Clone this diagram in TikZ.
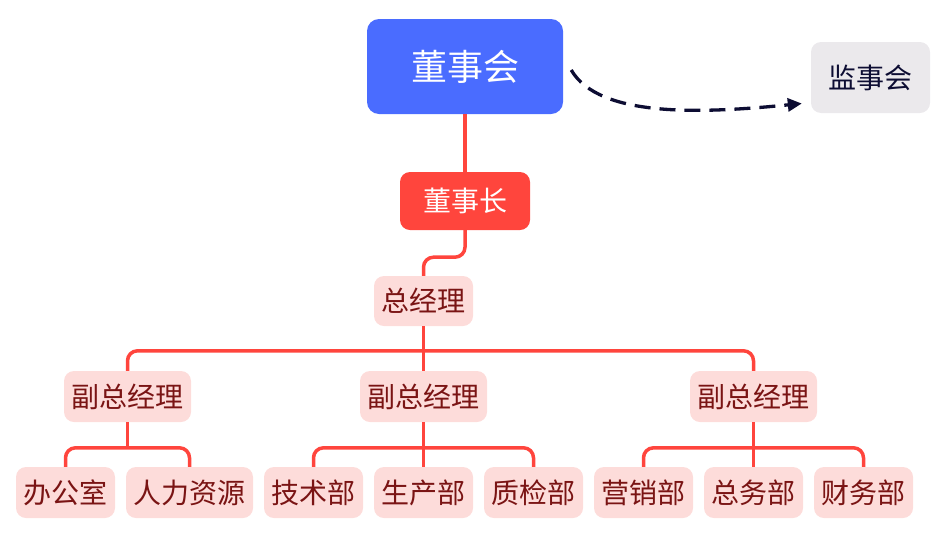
\documentclass[tikz,border=0pt]{standalone}
\usepackage{fontspec}
\newfontfamily\cjk{Noto Sans CJK SC}
\usetikzlibrary{arrows.meta,calc}
\definecolor{cblue}{HTML}{4A6CFF}
\definecolor{cred}{HTML}{FF453D}
\definecolor{cpink}{HTML}{FDDCDA}
\definecolor{ctext}{HTML}{7A1414}
\definecolor{cgrey}{HTML}{EBE9EC}
\definecolor{cnavy}{HTML}{0D0D33}
\tikzset{
  base/.style={inner sep=0pt, rounded corners=10pt, align=center},
  topbox/.style={base, fill=cblue, text=white, rounded corners=12pt, minimum width=196pt, minimum height=95pt, font=\cjk\fontsize{36}{40}\selectfont},
  chairbox/.style={base, fill=cred, text=white, minimum width=130pt, minimum height=58pt, font=\cjk\fontsize{28}{32}\selectfont},
  supbox/.style={base, fill=cgrey, text=cnavy, minimum width=119pt, minimum height=71pt, font=\cjk\fontsize{28}{32}\selectfont},
  pinkbox/.style={base, fill=cpink, text=ctext, minimum height=51pt, font=\cjk\fontsize{28}{32}\selectfont},
  conn/.style={draw=cred, line width=3.5pt, rounded corners=10pt},
  dasharrow/.style={draw=cnavy, line width=3.3pt, dash pattern=on 16pt off 9pt, -{Triangle[length=14pt,width=13pt]}},
}
\begin{document}
\begin{tikzpicture}[x=1pt,y=-1pt]
\useasboundingbox (0,0) rectangle (949,555);
% nodes
\node[topbox] (dsh) at (465,66.5) {董事会};
\node[supbox] (jsh) at (870.5,77.5) {监事会};
\node[chairbox] (dsz) at (465,201) {董事长};
\node[pinkbox, minimum width=99pt, minimum height=50pt] (zjl) at (423.5,301) {总经理};
\node[pinkbox, minimum width=127pt] (f1) at (127.5,396.5) {副总经理};
\node[pinkbox, minimum width=127pt] (f2) at (423.5,396.5) {副总经理};
\node[pinkbox, minimum width=127pt] (f3) at (753.5,396.5) {副总经理};
\node[pinkbox, minimum width=99pt] (l1) at (65.5,492.5) {办公室};
\node[pinkbox, minimum width=127pt] (l2) at (189.5,492.5) {人力资源};
\node[pinkbox, minimum width=99pt] (l3) at (313.5,492.5) {技术部};
\node[pinkbox, minimum width=99pt] (l4) at (423.5,492.5) {生产部};
\node[pinkbox, minimum width=99pt] (l5) at (533.5,492.5) {质检部};
\node[pinkbox, minimum width=99pt] (l6) at (643.5,492.5) {营销部};
\node[pinkbox, minimum width=99pt] (l7) at (753.5,492.5) {总务部};
\node[pinkbox, minimum width=99pt] (l8) at (863.5,492.5) {财务部};
% connectors
\draw[conn] (dsh.south) -- (dsz.north);
\draw[conn] (dsz.south) -- ++(0,27) -| (zjl.north);
\draw[conn] (zjl.south) -- (f2.north);
\draw[conn] (f1.north) -- ++(0,-20) -| (f3.north);
\draw[conn] (f1.south) -- ++(0,26);
\draw[conn] (l1.north) -- ++(0,-19) -| (l2.north);
\draw[conn] (f2.south) -- (l4.north);
\draw[conn] (l3.north) -- ++(0,-19) -| (l5.north);
\draw[conn] (f3.south) -- (l7.north);
\draw[conn] (l6.north) -- ++(0,-19) -| (l8.north);
% dashed arrow
\coordinate (as) at ($(dsh.east)+(8,3.5)$);
\coordinate (ae) at ($(jsh.west)+(-9,26)$);
\draw[dasharrow] (as) .. controls ($(as)+(28,48)$) and ($(ae)+(-100,10)$) .. (ae);
\end{tikzpicture}
\end{document}
